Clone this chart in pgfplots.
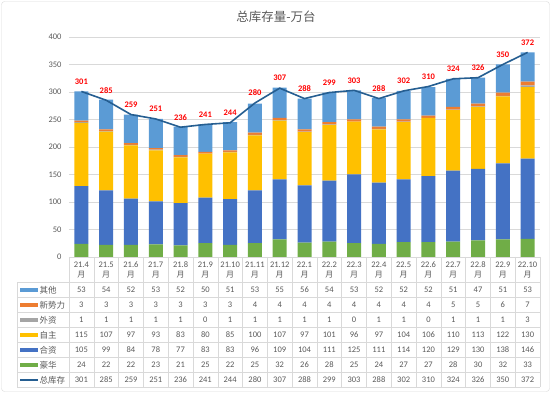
\documentclass[border=0pt]{standalone}
\usepackage{pgfplots}
\usepackage{pgfplotstable}
\pgfplotsset{compat=1.18}
\usepackage{fontspec}
\setmainfont{Carlito}
\newfontfamily\cjk{Noto Sans CJK SC}
\definecolor{cLux}{HTML}{70AD47}
\definecolor{cJv}{HTML}{4472C4}
\definecolor{cZz}{HTML}{FFC000}
\definecolor{cWz}{HTML}{A5A5A5}
\definecolor{cXsl}{HTML}{ED7D31}
\definecolor{cQt}{HTML}{5B9BD5}
\definecolor{cLine}{HTML}{255E91}
\definecolor{txt}{HTML}{595959}
\definecolor{gridc}{HTML}{D9D9D9}

\pgfplotstableread{
idx lux jv zz wz xsl qt tot
0 24 105 115 1 3 53 301
1 22 99 107 1 3 54 285
2 22 84 97 1 3 52 259
3 23 78 93 1 3 53 251
4 21 77 83 1 3 52 236
5 25 83 80 0 3 50 241
6 22 83 85 1 3 51 244
7 25 96 100 1 4 53 280
8 32 109 107 1 4 55 307
9 26 104 97 1 4 56 288
10 28 111 101 1 4 54 299
11 25 125 96 0 4 53 303
12 24 111 97 1 4 52 288
13 27 114 104 1 4 52 302
14 27 120 106 0 4 52 310
15 28 129 110 1 5 51 324
16 30 130 113 1 5 47 326
17 32 138 122 1 6 51 350
18 33 146 130 3 7 53 372
}\data

\begin{document}
\begin{tikzpicture}
\useasboundingbox (0pt,0pt) rectangle (551pt,393pt);
\draw[gridc, rounded corners=3pt] (1.5pt,1.5pt) rectangle (549.5pt,391.5pt);
\node[txt, font=\cjk\fontsize{12.5}{14}\selectfont] at (276pt,376pt) {总库存量-万台};

\begin{axis}[
  at={(69pt,136pt)}, anchor=south west,
  scale only axis, width=471pt, height=220pt,
  xmin=-0.5, xmax=18.5, ymin=0, ymax=400,
  ybar stacked, bar width=14pt,
  ytick={0,50,...,400}, xtick=\empty,
  ymajorgrids, grid style={gridc, line width=0.6pt},
  axis line style={draw=none}, major tick length=0pt,
  yticklabel style={font=\fontsize{8.5}{10}\selectfont, text=txt, xshift=-4pt},
  /pgf/number format/assume math mode=true,
  clip=false,
]
\addplot[fill=cLux, draw=none] table[x=idx,y=lux]{\data};
\addplot[fill=cJv, draw=none] table[x=idx,y=jv]{\data};
\addplot[fill=cZz, draw=none] table[x=idx,y=zz]{\data};
\addplot[fill=cWz, draw=none] table[x=idx,y=wz]{\data};
\addplot[fill=cXsl, draw=none] table[x=idx,y=xsl]{\data};
\addplot[fill=cQt, draw=none] table[x=idx,y=qt]{\data};
\end{axis}

\begin{axis}[
  at={(69pt,136pt)}, anchor=south west,
  scale only axis, width=471pt, height=220pt,
  xmin=-0.5, xmax=18.5, ymin=0, ymax=400,
  hide axis, clip=false,
  /pgf/number format/assume math mode=true,
  nodes near coords,
  nodes near coords style={font=\bfseries\fontsize{8.5}{10}\selectfont, text=red, anchor=south, yshift=3pt},
]
\addplot[cLine, line width=1.6pt, mark=none] table[x=idx,y=tot]{\data};
\end{axis}

% table grid
\foreach \yy in {110.5,95.5,80.5,65.5,50.5,35.5,20.5,5.5}
  \draw[gridc] (17pt,\yy pt) -- (540pt,\yy pt);
\draw[gridc] (17pt,110.5pt) -- (17pt,5.5pt);
\foreach \k in {0,...,19} {
  \pgfmathsetmacro\xx{69+\k*24.789}
  \draw[gridc] (\xx pt,136pt) -- (\xx pt,5.5pt);
}
% header
\foreach \l [count=\i from 0] in {21.4,21.5,21.6,21.7,21.8,21.9,21.10,21.11,21.12,22.1,22.2,22.3,22.4,22.5,22.6,22.7,22.8,22.9,22.10} {
  \pgfmathsetmacro\xx{69+(\i+0.5)*24.789}
  \node[txt, font=\fontsize{8.5}{10}\selectfont] at (\xx pt,128pt) {\l};
  \node[txt, font=\cjk\fontsize{8}{10}\selectfont] at (\xx pt,118pt) {月};
}
% values
\foreach \col/\yy in {qt/103,xsl/88,wz/73,zz/58,jv/43,lux/28,tot/13} {
  \foreach \i in {0,...,18} {
    \edef\tmp{\noexpand\pgfplotstablegetelem{\i}{\col}\noexpand\of\noexpand\data}\tmp
    \pgfmathsetmacro\xx{69+(\i+0.5)*24.789}
    \node[txt, font=\fontsize{8.5}{10}\selectfont] at (\xx pt,\yy pt) {\pgfplotsretval};
  }
}
% row labels with keys
\foreach \c/\n/\yy in {cQt/其他/103,cXsl/新势力/88,cWz/外资/73,cZz/自主/58,cJv/合资/43,cLux/豪华/28} {
  \fill[\c] (20pt,\yy pt-2pt) rectangle (38pt,\yy pt+2pt);
  \node[txt, anchor=west, inner sep=1pt, font=\cjk\fontsize{8.5}{10}\selectfont] at (38.5pt,\yy pt) {\n};
}
\draw[cLine, line width=1.6pt] (20pt,13pt) -- (38pt,13pt);
\node[txt, anchor=west, inner sep=1pt, font=\cjk\fontsize{8.5}{10}\selectfont] at (38.5pt,13pt) {总库存};
\end{tikzpicture}
\end{document}
